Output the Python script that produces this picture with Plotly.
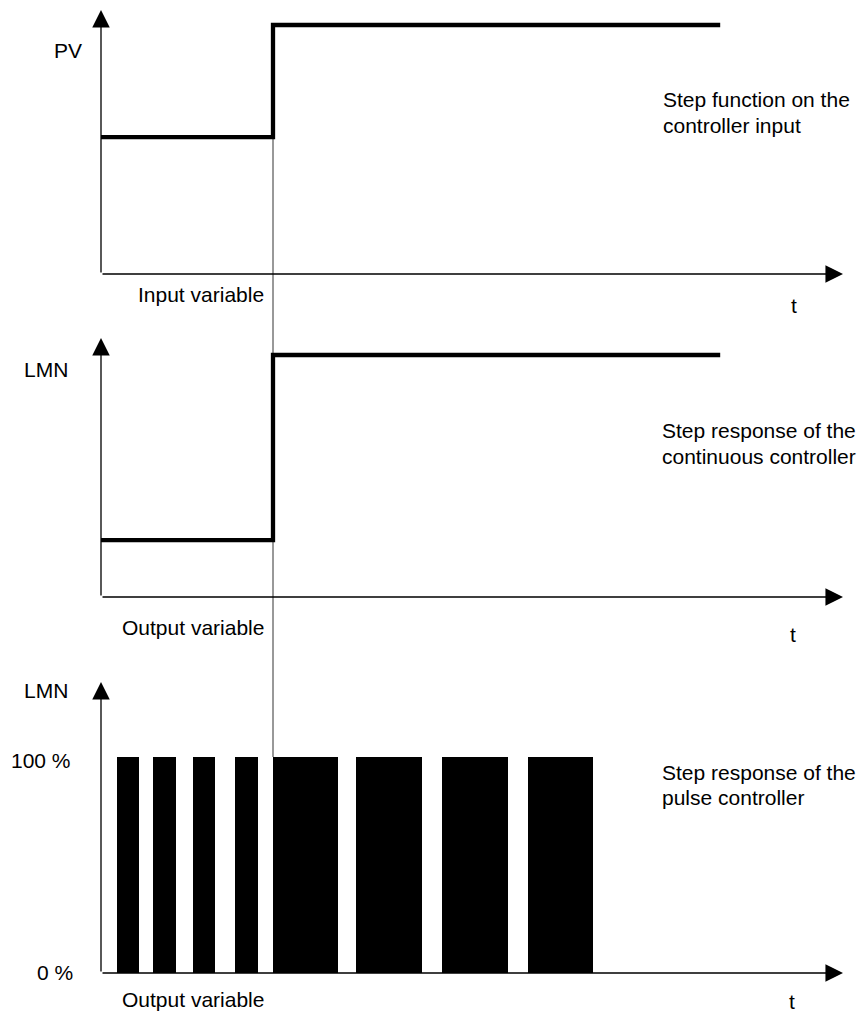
import plotly.graph_objects as go
from plotly.subplots import make_subplots

# ---------------- data (time in arbitrary units) ----------------
step_time = 10.0
pv_time = [0.0, 10.0, 36.0]
pv_value = [0.55, 1.0, 1.0]

lmn_time = [0.0, 10.0, 36.0]
lmn_value = [0.235, 1.0, 1.0]

pulse_start = [0.93, 3.02, 5.35, 7.79, 10.0, 14.83, 19.83, 24.83]
pulse_end = [2.21, 4.36, 6.63, 9.13, 13.78, 18.66, 23.66, 28.60]
pulse_level = 100.0

t_axis_end = 43.14
pv_axis_top = 1.06
lmn_axis_top = 1.07
pulse_axis_top = 134.7

# ---------------- layout helpers ----------------
PAGE_W, PAGE_H = 866, 1015
OFF = 8  # browser body margin
W, H = PAGE_W - OFF, PAGE_H - OFF
FONT = "Liberation Sans, Arial, Helvetica, sans-serif"
FS = 21

fig = make_subplots(rows=3, cols=1, vertical_spacing=0)

# connector thin line (drawn first, below step lines)
conn = dict(mode="lines", line=dict(color="#333333", width=1), showlegend=False, hoverinfo="skip")
fig.add_trace(go.Scatter(x=[step_time, step_time], y=[pv_value[0], -5], **conn), row=1, col=1)
fig.add_trace(go.Scatter(x=[step_time, step_time], y=[-5, 5], **conn), row=2, col=1)
fig.add_trace(go.Scatter(x=[step_time, step_time], y=[pulse_level, 500], **conn), row=3, col=1)

# step lines
step = dict(mode="lines", line=dict(color="black", width=4.3, shape="hv"), showlegend=False, hoverinfo="skip")
fig.add_trace(go.Scatter(x=pv_time, y=pv_value, **step), row=1, col=1)
fig.add_trace(go.Scatter(x=lmn_time, y=lmn_value, **step), row=2, col=1)

# pulses
centers = [(s + e) / 2 for s, e in zip(pulse_start, pulse_end)]
widths = [e - s for s, e in zip(pulse_start, pulse_end)]
fig.add_trace(go.Bar(x=centers, y=[pulse_level] * len(centers), width=widths,
                     marker=dict(color="black", line=dict(width=0)),
                     showlegend=False, hoverinfo="skip"), row=3, col=1)

# domains (contiguous) and ranges; page pixel positions of the panel edges
def py_to_paper(py):
    return 1 - (py - OFF) / H

dom = {1: (py_to_paper(313), 1.0), 2: (py_to_paper(650), py_to_paper(313)), 3: (0.0, py_to_paper(650))}
xr = [(OFF - 101) / 17.2, (PAGE_W - 101) / 17.2]
yranges = {1: [-(313 - 274) / 249, (274 - OFF) / 249],
           2: [-(650 - 597) / 242, (597 - 313) / 242],
           3: [-(PAGE_H - 973) / 216 * 100, (973 - 650) / 216 * 100]}
for i in (1, 2, 3):
    sfx = "" if i == 1 else str(i)
    fig.layout["xaxis" + sfx].update(domain=[0, 1], range=xr, visible=False, fixedrange=True)
    fig.layout["yaxis" + sfx].update(domain=list(dom[i]), range=yranges[i], visible=False, fixedrange=True)

annotations = []

# axes with arrows
tops = {1: pv_axis_top, 2: lmn_axis_top, 3: pulse_axis_top}
for i in (1, 2, 3):
    sfx = "" if i == 1 else str(i)
    xa, ya = "x" + sfx, "y" + sfx
    arrow = dict(text="", showarrow=True, arrowhead=2, arrowsize=2.7, arrowwidth=1.3,
                 arrowcolor="black", standoff=0, startstandoff=0,
                 xref=xa, yref=ya, axref=xa, ayref=ya)
    annotations.append(dict(x=0, y=tops[i], ax=0, ay=0, **arrow))
    annotations.append(dict(x=t_axis_end, y=0, ax=0, ay=0, **arrow))

def label(text, px, py, anchor="left", yanchor="middle"):
    annotations.append(dict(text=text, x=(px - OFF) / W, y=py_to_paper(py), xref="paper", yref="paper",
                            xanchor=anchor, yanchor=yanchor, showarrow=False,
                            font=dict(family=FONT, size=FS, color="black")))

# panel 1
label("PV", 52, 50)
label("Input variable", 266, 295, "right")
label("t", 794, 305, "center")
label("Step function on the", 661, 100)
label("controller input", 661, 125)
# panel 2
label("LMN", 22, 370)
label("Output variable", 266, 627, "right")
label("t", 793, 634, "center")
label("Step response of the", 660, 431)
label("continuous controller", 660, 456)
# panel 3
label("LMN", 22, 690)
label("100 %", 73, 760, "right")
label("0 %", 75, 972, "right")
label("Output variable", 266, 999, "right")
label("t", 792, 1015, "center", "bottom")
label("Step response of the", 660, 772)
label("pulse controller", 660, 797)

fig.update_layout(width=W, height=H, margin=dict(l=0, r=0, t=0, b=0),
                  paper_bgcolor="white", plot_bgcolor="white",
                  annotations=annotations, showlegend=False, bargap=0)

fig.write_html("out.html", config={"displayModeBar": False})
